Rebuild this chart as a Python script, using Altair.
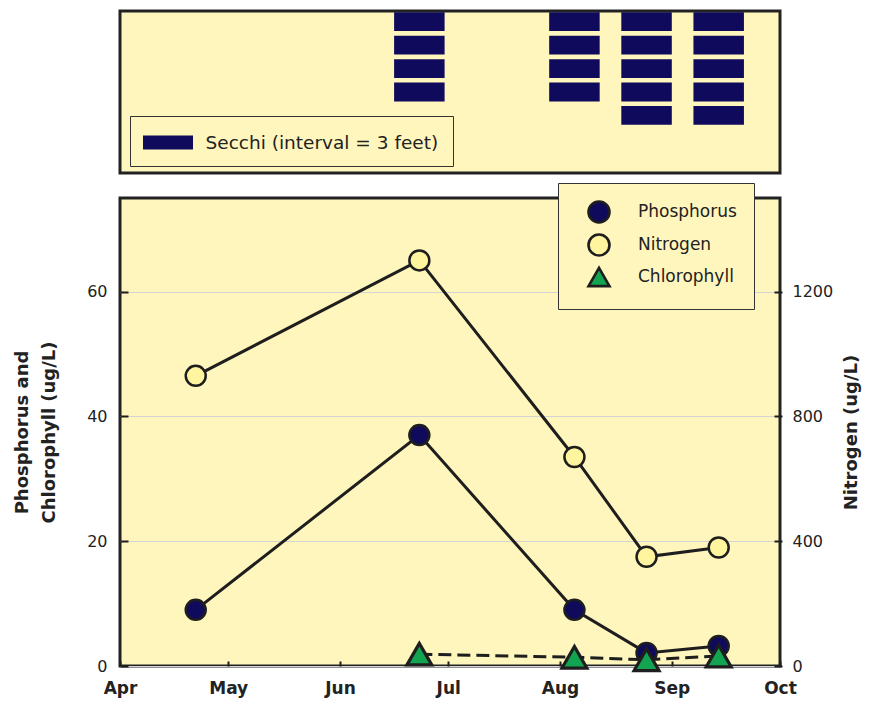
import altair as alt
import pandas as pd

# ---------------- data ----------------
sample_dates = ["2023-04-22", "2023-06-23", "2023-08-05", "2023-08-25", "2023-09-14"]
phosphorus = [9, 37, 9, 2.1, 3.2]            # ug/L (left axis)
nitrogen = [930, 1300, 670, 350, 380]        # ug/L (right axis)
chl_dates = ["2023-06-23", "2023-08-05", "2023-08-25", "2023-09-14"]
chlorophyll = [1.9, 1.4, 1.0, 1.6]           # ug/L (left axis)
secchi_dates = ["2023-06-23", "2023-08-05", "2023-08-25", "2023-09-14"]
secchi_intervals = [4, 4, 5, 5]              # number of 3-ft intervals
secchi_label = "Secchi (interval = 3 feet)"
series_names = ["Phosphorus", "Nitrogen", "Chlorophyll"]
month_starts = [4, 5, 6, 7, 8, 9, 10]
left_ticks = [0, 20, 40, 60]
right_ticks = [0, 400, 800, 1200]

# ---------------- styles ----------------
BG = "#FFF6BD"
NAVY = "#100A5C"
NFILL = "#FFF59E"
GREEN = "#12A450"
INK = "#1E1E1E"
FONT = "DejaVu Sans"

left_df = pd.DataFrame(
    [{"date": d, "series": "Phosphorus", "value": v} for d, v in zip(sample_dates, phosphorus)]
    + [{"date": d, "series": "Chlorophyll", "value": v} for d, v in zip(chl_dates, chlorophyll)]
)
n_df = pd.DataFrame([{"date": d, "series": "Nitrogen", "value": v} for d, v in zip(sample_dates, nitrogen)])
secchi_df = pd.DataFrame(
    [{"date": d, "k": k, "label": secchi_label} for d, n in zip(secchi_dates, secchi_intervals) for k in range(1, n + 1)]
)

xdomain = [alt.DateTime(year=2023, month=4, date=1, utc=True), alt.DateTime(year=2023, month=10, date=1, utc=True)]
xscale = alt.Scale(type="utc", domain=xdomain)
month_vals = [alt.DateTime(year=2023, month=m, date=1, utc=True) for m in month_starts]

# ---------------- top panel: Secchi ----------------
secchi = alt.Chart(secchi_df).transform_calculate(
    start="toDate(datum.date) - 7*86400000",
    end="toDate(datum.date) + 7*86400000",
).mark_rect(strokeWidth=0).encode(
    x=alt.X("start:T", scale=xscale, axis=None),
    x2="end:T",
    y=alt.Y("k:O", scale=alt.Scale(domain=[1, 2, 3, 4, 5, 6, 7], paddingInner=0.2, paddingOuter=0.05), axis=None),
    color=alt.Color(
        "label:N",
        scale=alt.Scale(domain=[secchi_label], range=[NAVY]),
        legend=alt.Legend(
            title=None, orient="none", legendX=10, legendY=105,
            symbolType="M-2,-0.56H2V0.56H-2Z", symbolSize=625, symbolStrokeWidth=0,
            padding=14, symbolOffset=11.5, labelOffset=25, labelLimit=500,
            labelFontSize=18.5, labelFont=FONT, labelColor="#222",
            fillColor=BG, strokeColor="#333",
        ),
    ),
).properties(width=660, height=162)

# ---------------- bottom panel ----------------
color_scale = alt.Scale(domain=series_names, range=[NAVY, NFILL, GREEN])
shape_scale = alt.Scale(domain=series_names, range=["circle", "circle", "triangle-up"])
stroke_scale = alt.Scale(domain=series_names, range=[INK, INK, INK])
legend = alt.Legend(
    title=None, orient="none", legendX=438, legendY=-15,
    symbolSize=440, symbolStrokeColor=INK, symbolStrokeWidth=2.6, symbolOpacity=1,
    padding=17, symbolOffset=12, labelOffset=27, rowPadding=1, labelLimit=300,
    labelFontSize=17, labelFont=FONT, labelColor="#222",
    fillColor=BG, strokeColor="#333",
)

x_enc = alt.X(
    "date:T", scale=xscale,
    axis=alt.Axis(
        values=month_vals, format="%b", title=None, labelFlush=False, offset=-5, tickSize=5,
        domain=False, grid=False, labelPadding=14, labelFontWeight="bold", labelFontSize=17,
        labelFont=FONT, labelColor="#222", tickColor=INK, tickWidth=2,
    ),
)
y_left = alt.Y(
    "value:Q", scale=alt.Scale(domain=[0, 75], nice=False),
    axis=alt.Axis(
        orient="left", values=left_ticks, title=["Phosphorus and", "Chlorophyll (ug/L)"],
        offset=-8, tickSize=8, labelPadding=13, titlePadding=28, titleLineHeight=27,
        grid=True, gridColor="#D4D4D4", gridWidth=1, domain=False,
        labelFontSize=16, labelFont=FONT, labelColor="#222", tickColor=INK, tickWidth=2,
        titleFont=FONT, titleFontSize=18, titleFontWeight="bold", titleColor="#222",
    ),
)
y_right = alt.Y(
    "value:Q", scale=alt.Scale(domain=[0, 1500], nice=False),
    axis=alt.Axis(
        orient="right", values=right_ticks, format="d", title="Nitrogen (ug/L)", titleAngle=270,
        offset=-6, tickSize=8, labelPadding=10, titlePadding=28,
        grid=False, domain=False,
        labelFontSize=16, labelFont=FONT, labelColor="#222", tickColor=INK, tickWidth=2,
        titleFont=FONT, titleFontSize=18, titleFontWeight="bold", titleColor="#222",
    ),
)


def point_enc():
    return dict(
        color=alt.Color("series:N", scale=color_scale, legend=legend),
        shape=alt.Shape("series:N", scale=shape_scale, legend=legend),
        stroke=alt.Stroke("series:N", scale=stroke_scale, legend=legend),
    )


base_left = alt.Chart(left_df)
p_data = base_left.transform_filter(alt.datum.series == "Phosphorus")
c_data = base_left.transform_filter(alt.datum.series == "Chlorophyll")
p_line = p_data.mark_line(color=INK, strokeWidth=3).encode(x=x_enc, y=y_left)
c_line = c_data.mark_line(color=INK, strokeWidth=3, strokeDash=[13, 6]).encode(x=x_enc, y=y_left)
p_pts = p_data.mark_point(filled=True, opacity=1, size=400, strokeWidth=2.5).encode(
    x=x_enc, y=y_left, **point_enc()
)
c_pts = c_data.mark_point(filled=True, opacity=1, size=620, strokeWidth=3.2).encode(
    x=x_enc, y=y_left, **point_enc()
)
left_layer = alt.layer(p_line, c_line, p_pts, c_pts)

base_n = alt.Chart(n_df)
n_line = base_n.mark_line(color=INK, strokeWidth=3).encode(x=x_enc, y=y_right)
n_pts = base_n.mark_point(filled=True, opacity=1, size=400, strokeWidth=2.5).encode(
    x=x_enc, y=y_right, **point_enc()
)
right_layer = alt.layer(n_line, n_pts)

bottom = alt.layer(left_layer, right_layer).resolve_scale(y="independent").properties(width=660, height=468)

chart = alt.vconcat(secchi, bottom, spacing=25, bounds="flush").resolve_scale(
    color="independent", shape="independent", stroke="independent", x="independent"
).resolve_legend(color="independent", shape="independent", stroke="independent").properties(
    padding={"left": 4, "top": 1, "right": 2, "bottom": 2},
    background="white",
).configure_view(fill=BG, stroke="#222", strokeWidth=3)

chart.save("out.html", embed_options={"renderer": "svg", "actions": False})
